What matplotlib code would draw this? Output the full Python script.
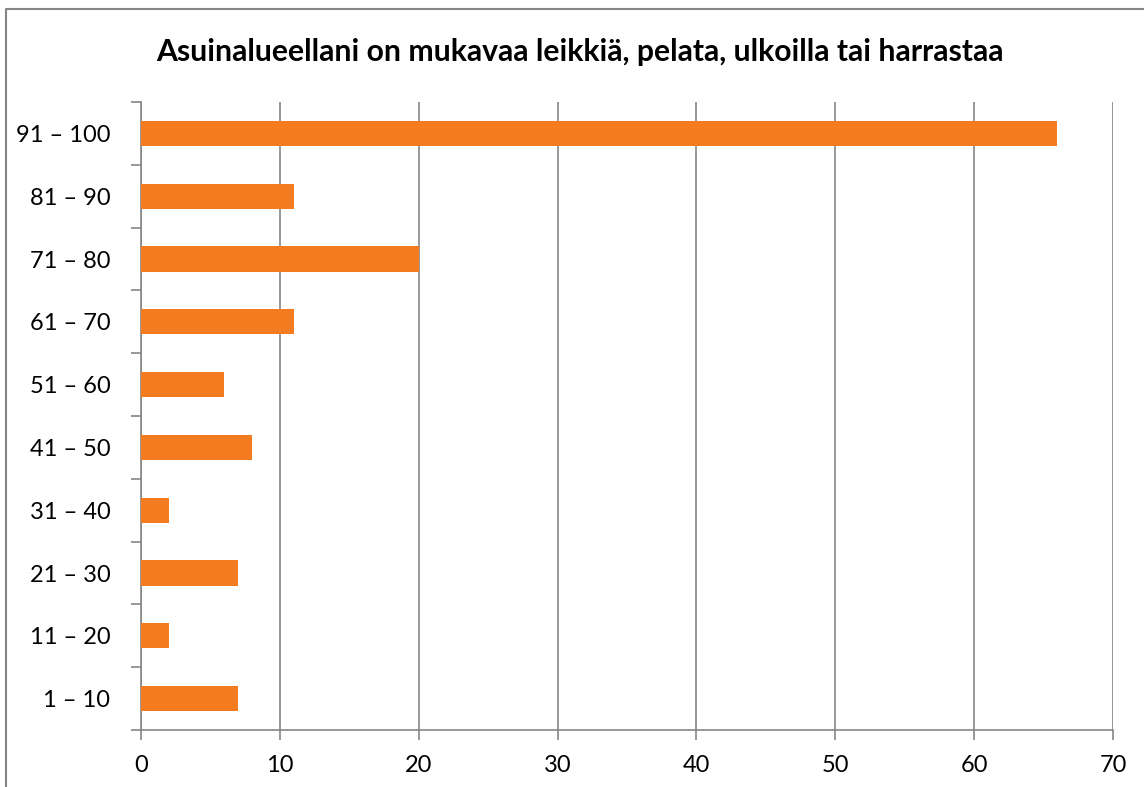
import matplotlib.pyplot as plt
from matplotlib.lines import Line2D
from matplotlib.ticker import FixedLocator

# Survey ranges and answer counts
categories = ['1 – 10', '11 – 20', '21 – 30', '31 – 40', '41 – 50',
              '51 – 60', '61 – 70', '71 – 80', '81 – 90', '91 – 100']
counts = [7, 2, 7, 2, 8, 6, 11, 20, 11, 66]
x_ticks = [0, 10, 20, 30, 40, 50, 60, 70]

plt.rcParams['font.family'] = ['Lato', 'DejaVu Sans']

fig = plt.figure(figsize=(11.44, 7.87), dpi=100)
ax = fig.add_axes([141 / 1144, 1 - 730 / 787, (1113 - 141) / 1144, (730 - 102) / 787])

pos = list(range(len(categories)))
ax.barh(pos, counts, height=0.4, color='#F47B20', zorder=3)

ax.set_xlim(0, 70)
ax.set_ylim(-0.5, len(categories) - 0.5)
ax.set_xticks(x_ticks)
ax.set_xticklabels([str(t) for t in x_ticks], fontsize=17)
ax.set_yticks(pos)
ax.set_yticklabels(categories, fontsize=17)
ax.tick_params(axis='y', length=0, pad=22)
ax.yaxis.set_minor_locator(FixedLocator([p - 0.5 for p in pos] + [len(pos) - 0.5]))
ax.tick_params(axis='y', which='minor', length=7, color='#868686', width=1.2)
ax.tick_params(axis='x', length=7, color='#868686', width=1.2, pad=11)

ax.grid(axis='x', color='#868686', linewidth=1.2, zorder=0)
for s in ['top', 'right']:
    ax.spines[s].set_visible(False)
for s in ['left', 'bottom']:
    ax.spines[s].set_color('#868686')
    ax.spines[s].set_linewidth(1.2)

fig.text(580 / 1144, 1 - 52 / 787, 'Asuinalueellani on mukavaa leikkiä, pelata, ulkoilla tai harrastaa',
         ha='center', va='center', fontsize=21.7, fontweight='bold')

# outer chart border (left and top edges only are inside the picture)
bx, by = 6 / 1144, 1 - 9 / 787
fig.lines.append(Line2D([bx, bx, 1.0], [0.0, by, by], transform=fig.transFigure,
                        color='#868686', linewidth=1.5))

fig.savefig('out.png', dpi=100)
